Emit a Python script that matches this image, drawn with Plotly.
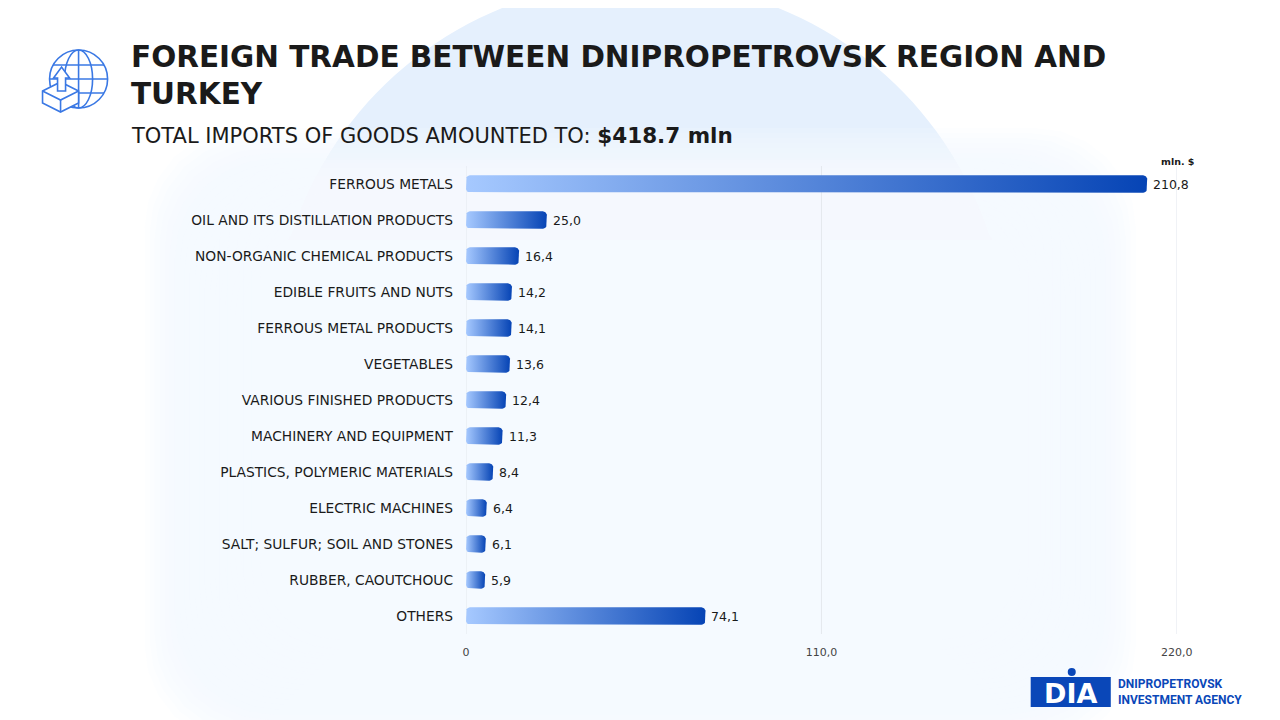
import math
import plotly.graph_objects as go

# the renderer maps figure x to screen as 11.5 + 0.984 * x and y as y + 8;
# layout positions below are given in screen pixels and converted back
W, H = 1280, 720
SX, KX, OY = 11.5, 0.984, 8

categories = [
    "FERROUS METALS",
    "OIL AND ITS DISTILLATION PRODUCTS",
    "NON-ORGANIC CHEMICAL PRODUCTS",
    "EDIBLE FRUITS AND NUTS",
    "FERROUS METAL PRODUCTS",
    "VEGETABLES",
    "VARIOUS FINISHED PRODUCTS",
    "MACHINERY AND EQUIPMENT",
    "PLASTICS, POLYMERIC MATERIALS",
    "ELECTRIC MACHINES",
    "SALT; SULFUR; SOIL AND STONES",
    "RUBBER, CAOUTCHOUC",
    "OTHERS",
]
values = [210.8, 25.0, 16.4, 14.2, 14.1, 13.6, 12.4, 11.3, 8.4, 6.4, 6.1, 5.9, 74.1]
x_ticks = [0, 110, 220]
x_tick_text = ["0", "110,0", "220,0"]

FONT = "DejaVu Sans"
DARK = "#1a1a1a"
BLUE = "#0a47b8"


def px(x):
    return ((x - SX) / KX) / W


def py(y):
    return 1 - (y - OY) / H


def ppath(points, close=True):
    s = "M " + " L ".join(f"{px(x):.5f},{py(y):.5f}" for x, y in points)
    return s + (" Z" if close else "")


def round_rect(x0, y0, x1, y1, r):
    pts = []
    corners = [(x1 - r, y0 + r, -90), (x1 - r, y1 - r, 0), (x0 + r, y1 - r, 90), (x0 + r, y0 + r, 180)]
    for cx, cy, a0 in corners:
        for k in range(7):
            a = math.radians(a0 + 15 * k)
            pts.append((cx + r * math.cos(a), cy + r * math.sin(a)))
    return ppath(pts)


# plot area in screen pixels
X0, X1 = 466, 1176
Y0, Y1 = 166, 634
ux = (X1 - X0) / 220.0
uy = (Y1 - Y0) / len(categories)

fig = go.Figure()

# bars as filled shapes with a horizontal gradient
half = 0.24
rx = 4 / ux
ry = 4 / uy
for i, v in enumerate(values):
    xs, ys = [], []
    corners = [(v - rx, i - half + ry, -90), (v - rx, i + half - ry, 0),
               (rx, i + half - ry, 90), (rx, i - half + ry, 180)]
    for cx, cy, a0 in corners:
        for k in range(7):
            a = math.radians(a0 + 15 * k)
            xs.append(cx + rx * math.cos(a))
            ys.append(cy + ry * math.sin(a))
    xs.append(xs[0])
    ys.append(ys[0])
    fig.add_trace(go.Scatter(
        x=xs, y=ys, mode="lines", fill="toself",
        line=dict(width=0),
        fillgradient=dict(type="horizontal",
                          colorscale=[[0, "#a6c9ff"], [1, "#0644b5"]]),
        hoverinfo="skip", showlegend=False,
    ))

# value labels
for i, v in enumerate(values):
    fig.add_annotation(
        x=v, y=i, xref="x", yref="y", text=f"{v:.1f}".replace(".", ","),
        showarrow=False, xanchor="left", xshift=4,
        font=dict(family=FONT, size=12.5, color=DARK),
    )

shapes = []
# background dome (upper part of a big circle) and a soft glow behind the chart
cx, cy, cr = 640, 347, 366
dome = []
for a in range(180, 361, 2):
    x = cx + cr * math.cos(math.radians(a))
    y = cy + cr * math.sin(math.radians(a))
    dome.append((x, min(y, 240)))
shapes.append(dict(type="path", xref="paper", yref="paper", path=ppath(dome),
                   fillcolor="#e5f0fd", line=dict(width=0), layer="below"))
for k in range(20):
    ins = k * 5
    shapes.append(dict(type="path", xref="paper", yref="paper",
                       path=round_rect(145 + ins, 128 + ins, 1135 - ins, 745 - ins, 100),
                       fillcolor="#f5f9fe", opacity=0.2, line=dict(width=0), layer="below"))
for k in range(6):
    ins = k * 8
    shapes.append(dict(type="path", xref="paper", yref="paper",
                       path=round_rect(220 + ins, 160 + ins, 1060 - ins, 680 - ins, 80),
                       fillcolor="#f5f9fe", opacity=0.35, line=dict(width=0), layer="below"))

# gridlines
for t in x_ticks:
    shapes.append(dict(type="line", xref="x", yref="y domain", x0=t, x1=t, y0=0, y1=1,
                       line=dict(color="#e4e8ee", width=1), layer="below"))

# icon: globe
IC = "#3a78e4"
gx, gy, gr = 79, 79, 29
shapes.append(dict(type="circle", xref="paper", yref="paper",
                   x0=px(gx - gr), x1=px(gx + gr), y0=py(gy + gr), y1=py(gy - gr),
                   line=dict(color=IC, width=1.6), layer="above"))
shapes.append(dict(type="circle", xref="paper", yref="paper",
                   x0=px(gx - 14), x1=px(gx + 14), y0=py(gy + gr), y1=py(gy - gr),
                   line=dict(color=IC, width=1.6), layer="above"))
shapes.append(dict(type="line", xref="paper", yref="paper",
                   x0=px(gx), x1=px(gx), y0=py(gy + gr), y1=py(gy - gr),
                   line=dict(color=IC, width=1.6), layer="above"))
for dy in (-14, 0, 14):
    dx = math.sqrt(gr ** 2 - dy ** 2)
    shapes.append(dict(type="line", xref="paper", yref="paper",
                       x0=px(gx - dx), x1=px(gx + dx), y0=py(gy + dy), y1=py(gy + dy),
                       line=dict(color=IC, width=1.6), layer="above"))
# icon: box
shapes.append(dict(type="path", xref="paper", yref="paper",
                   path=ppath([(43, 91), (61, 82), (79, 91), (79, 103), (61, 112), (43, 103)]),
                   fillcolor="white", line=dict(color=IC, width=1.6), layer="above"))
shapes.append(dict(type="path", xref="paper", yref="paper",
                   path=ppath([(43, 91), (61, 100), (79, 91)], close=False),
                   line=dict(color=IC, width=1.6), layer="above"))
shapes.append(dict(type="line", xref="paper", yref="paper",
                   x0=px(61), x1=px(61), y0=py(100), y1=py(112),
                   line=dict(color=IC, width=1.6), layer="above"))
# icon: arrow
shapes.append(dict(type="path", xref="paper", yref="paper",
                   path=ppath([(58, 91), (58, 78), (54, 78), (62, 67), (70, 78), (66, 78), (66, 91)]),
                   fillcolor="white", line=dict(color=IC, width=1.6), layer="above"))

# logo block
shapes.append(dict(type="rect", xref="paper", yref="paper",
                   x0=px(1030), x1=px(1110), y0=py(707), y1=py(677),
                   fillcolor=BLUE, line=dict(width=0), layer="above"))
shapes.append(dict(type="circle", xref="paper", yref="paper",
                   x0=px(1067), x1=px(1075), y0=py(676), y1=py(668),
                   fillcolor=BLUE, line=dict(width=0), layer="above"))

fig.update_layout(shapes=shapes)

# titles
fig.add_annotation(xref="paper", yref="paper", x=px(129), y=py(57), xanchor="left", yanchor="middle",
                   text="<b>FOREIGN TRADE BETWEEN DNIPROPETROVSK REGION AND</b>",
                   showarrow=False, font=dict(family=FONT, size=29.5, color=DARK))
fig.add_annotation(xref="paper", yref="paper", x=px(129), y=py(94), xanchor="left", yanchor="middle",
                   text="<b>TURKEY</b>",
                   showarrow=False, font=dict(family=FONT, size=29.5, color=DARK))
fig.add_annotation(xref="paper", yref="paper", x=px(129), y=py(135), xanchor="left", yanchor="middle",
                   text="TOTAL IMPORTS OF GOODS AMOUNTED TO: "
                        "<b><span style='font-size:21.5px'>$418.7 mln</span></b>",
                   showarrow=False, font=dict(family=FONT, size=21, color=DARK))
fig.add_annotation(xref="paper", yref="paper", x=px(1177), y=py(161), xanchor="center", yanchor="middle",
                   text="<b>mln. $</b>", showarrow=False,
                   font=dict(family=FONT, size=9.5, color=DARK))

# logo texts
fig.add_annotation(xref="paper", yref="paper", x=px(1070), y=py(693), xanchor="center", yanchor="middle",
                   text="<b>DIA</b>", showarrow=False,
                   font=dict(family=FONT, size=27, color="white"))
fig.add_annotation(xref="paper", yref="paper", x=px(1115), y=py(692), xanchor="left", yanchor="middle",
                   text="<b>DNIPROPETROVSK<br>INVESTMENT AGENCY</b>", align="left", showarrow=False,
                   font=dict(family="Roboto", size=12, color=BLUE))

fig.update_layout(
    width=W, height=H,
    margin=dict(l=0, r=0, t=0, b=0),
    paper_bgcolor="white",
    plot_bgcolor="rgba(0,0,0,0)",
    showlegend=False,
    xaxis=dict(
        domain=[px(X0), px(X1)], range=[0, 220],
        tickvals=x_ticks, ticktext=x_tick_text,
        showgrid=False, zeroline=False, showline=False, ticks="",
        ticklabelstandoff=10,
        tickfont=dict(family=FONT, size=11, color="#444"),
        fixedrange=True,
    ),
    yaxis=dict(
        domain=[py(Y1), py(Y0)], range=[len(categories) - 0.5, -0.5],
        tickvals=list(range(len(categories))), ticktext=categories,
        showgrid=False, zeroline=False, showline=False, ticks="",
        ticklabelstandoff=12,
        tickfont=dict(family=FONT, size=13.8, color=DARK),
        fixedrange=True,
    ),
)

fig.write_html("out.html")
